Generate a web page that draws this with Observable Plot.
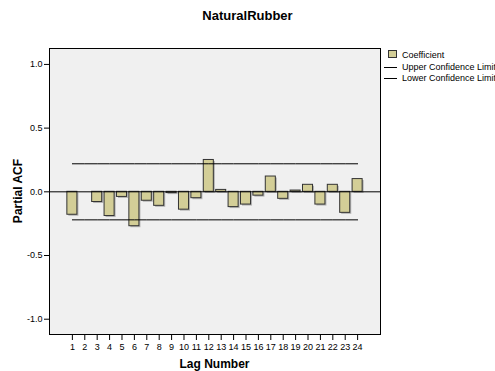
<!DOCTYPE html>
<html>
<head>
<meta charset="utf-8">
<script src="https://cdn.jsdelivr.net/npm/d3@7"></script>
<script src="https://cdn.jsdelivr.net/npm/@observablehq/plot@0.6"></script>
<style>
  body { margin: 0; background: #fff; font-family: "Liberation Sans", Arial, sans-serif; }
  #wrap { position: relative; width: 495px; height: 371px; overflow: hidden; }
  .t { position: absolute; font-weight: bold; color: #000; white-space: nowrap; }
  #title { left: 0; width: 495px; top: 8px; text-align: center; font-size: 13px; }
  #xlab { left: 49px; width: 331px; top: 357px; text-align: center; font-size: 12px; }
  #ylab { left: 18px; top: 191px; font-size: 12px; transform: translate(-50%, -50%) rotate(-90deg); }
  .lg { position: absolute; font-size: 9px; white-space: nowrap; color: #000; }
  #chart { position: absolute; left: 0; top: 0; }
</style>
</head>
<body>
<div id="wrap">
  <div id="chart"></div>
  <div id="title" class="t">NaturalRubber</div>
  <div id="xlab" class="t">Lag Number</div>
  <div id="ylab" class="t">Partial ACF</div>
  <div class="lg" style="left:388px;top:50px;width:9px;height:8px;background:#d3ce97;border:1px solid #333;box-sizing:border-box;"></div>
  <div class="lg" style="left:402px;top:50px;">Coefficient</div>
  <div class="lg" style="left:384px;top:67px;width:13px;height:1px;background:#000;"></div>
  <div class="lg" style="left:402px;top:62px;">Upper Confidence Limit</div>
  <div class="lg" style="left:384px;top:78px;width:13px;height:1px;background:#000;"></div>
  <div class="lg" style="left:402px;top:73px;">Lower Confidence Limit</div>
</div>
<script>
const lags = [1,2,3,4,5,6,7,8,9,10,11,12,13,14,15,16,17,18,19,20,21,22,23,24];
const pacf = [-0.18, 0.00, -0.08, -0.19, -0.04, -0.27, -0.07, -0.11, -0.01, -0.14, -0.05, 0.25,
              0.015, -0.12, -0.10, -0.03, 0.12, -0.055, 0.01, 0.055, -0.10, 0.055, -0.165, 0.10];
const upperLimit = [0.22,0.22,0.22,0.22,0.22,0.22,0.22,0.22,0.22,0.22,0.22,0.22,
                    0.22,0.22,0.22,0.22,0.22,0.22,0.22,0.22,0.22,0.22,0.22,0.22];
const lowerLimit = [-0.22,-0.22,-0.22,-0.22,-0.22,-0.22,-0.22,-0.22,-0.22,-0.22,-0.22,-0.22,
                    -0.22,-0.22,-0.22,-0.22,-0.22,-0.22,-0.22,-0.22,-0.22,-0.22,-0.22,-0.22];
const yTicks = [-1, -0.5, 0, 0.5, 1];

const rows = lags.map((lag, i) => ({lag, pacf: pacf[i], upper: upperLimit[i], lower: lowerLimit[i]}));

const chart = Plot.plot({
  width: 495,
  height: 371,
  marginLeft: 49,
  marginRight: 115,
  marginTop: 48,
  marginBottom: 37,
  style: {fontFamily: "'Liberation Sans', Arial, sans-serif", fontSize: "9px", background: "transparent", color: "#000"},
  x: {type: "band", domain: lags, paddingInner: 0.19, paddingOuter: 1.44, round: false, label: null},
  y: {domain: [-1.12, 1.125], label: null},
  marks: [
    Plot.frame({fill: "#f0f0f0"}),
    Plot.barY(rows, {x: "lag", y: "pacf", fill: "#8a8a8a", fillOpacity: 0.6, dx: 1.5, dy: 1.5}),
    Plot.barY(rows, {x: "lag", y: "pacf", fill: "#d3ce97", stroke: "#333", strokeWidth: 1}),
    Plot.ruleY([0], {stroke: "#000", strokeWidth: 1}),
    Plot.lineY(rows, {x: "lag", y: "upper", stroke: "#000", strokeWidth: 1}),
    Plot.lineY(rows, {x: "lag", y: "lower", stroke: "#000", strokeWidth: 1}),
    Plot.frame({stroke: "#000", strokeWidth: 1}),
    Plot.axisY({ticks: yTicks, tickSize: 5, tickPadding: 2, tickFormat: d => d.toFixed(1), label: null, stroke: "#000"}),
    Plot.axisX({tickSize: 6, tickPadding: 3, label: null, stroke: "#000"})
  ]
});
document.getElementById("chart").appendChild(chart);
</script>
</body>
</html>
